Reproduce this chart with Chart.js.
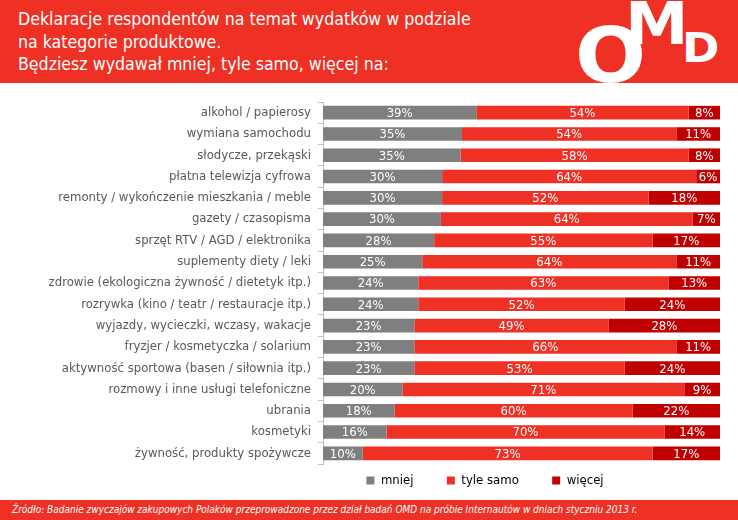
<!DOCTYPE html>
<html lang="pl">
<head>
<meta charset="utf-8">
<script src="https://cdn.jsdelivr.net/npm/chart.js@4.4.1/dist/chart.umd.min.js"></script>
<style>
    html, body {
        margin: 0;
        padding: 0;
        width: 738px;
        height: 520px;
        overflow: hidden;
        background: #fff;
        font-family: "DejaVu Sans Condensed", "DejaVu Sans", sans-serif;
    }
    #header {
        position: absolute;
        left: 0;
        top: 0;
        width: 738px;
        height: 83px;
        background: #ee3124;
        overflow: hidden;
    }
    #title {
        position: absolute;
        left: 18px;
        top: 8px;
        color: #fff;
        font-size: 17.6px;
        line-height: 22.5px;
        white-space: nowrap;
    }
    .logo {
        position: absolute;
        color: #fff;
        font-family: "DejaVu Sans", sans-serif;
        font-weight: bold;
        line-height: 1;
        transform-origin: left top;
    }
    #chartBox {
        position: absolute;
        left: 0;
        top: 85px;
        width: 738px;
        height: 415px;
    }
    #footer {
        position: absolute;
        left: 0;
        top: 500px;
        width: 738px;
        height: 20px;
        background: #ee3124;
        color: #fff;
        font-style: italic;
        font-size: 10px;
        line-height: 20px;
        padding-left: 12px;
        box-sizing: border-box;
        white-space: nowrap;
    }
</style>
</head>
<body>

<div id="header">
    <div id="title">
        Deklaracje respondentów na temat wydatków w podziale<br>
        na kategorie produktowe.<br>
        Będziesz wydawał mniej, tyle samo, więcej na:
    </div>
    <div class="logo" style="left:575px; top:18px; font-size:76px; transform:scaleX(1.1);">O</div>
    <div class="logo" style="left:625px; top:-5px; font-size:58px; transform:scaleX(1.1);">M</div>
    <div class="logo" style="left:682px; top:28px; font-size:41px; transform:scaleX(1.1);">D</div>
</div>

<div id="chartBox">
    <canvas id="spendChart"></canvas>
</div>

<div id="footer">Źródło: Badanie zwyczajów zakupowych Polaków przeprowadzone przez dział badań OMD na próbie Internautów w dniach styczniu 2013 r.</div>

<script>
// ==========================
// Data
// ==========================

const categories = [
    "alkohol / papierosy",
    "wymiana samochodu",
    "słodycze, przekąski",
    "płatna telewizja cyfrowa",
    "remonty / wykończenie mieszkania / meble",
    "gazety / czasopisma",
    "sprzęt RTV / AGD / elektronika",
    "suplementy diety / leki",
    "zdrowie (ekologiczna żywność / dietetyk itp.)",
    "rozrywka (kino / teatr / restauracje itp.)",
    "wyjazdy, wycieczki, wczasy, wakacje",
    "fryzjer / kosmetyczka / solarium",
    "aktywność sportowa (basen / siłownia itp.)",
    "rozmowy i inne usługi telefoniczne",
    "ubrania",
    "kosmetyki",
    "żywność, produkty spożywcze"
];

const mniej    = [39, 35, 35, 30, 30, 30, 28, 25, 24, 24, 23, 23, 23, 20, 18, 16, 10];
const tyleSamo = [54, 54, 58, 64, 52, 64, 55, 64, 63, 52, 49, 66, 53, 71, 60, 70, 73];
const wiecej   = [8, 11, 8, 6, 18, 7, 17, 11, 13, 24, 28, 11, 24, 9, 22, 14, 17];

const seriesNames = ["mniej", "tyle samo", "więcej"];

// bars are 100% stacked, so each row is scaled to its own total
const rowTotals = categories.map((c, i) => mniej[i] + tyleSamo[i] + wiecej[i]);
const toShare = arr => arr.map((v, i) => v / rowTotals[i] * 100);

const labelFont = '"DejaVu Sans Condensed", "DejaVu Sans", sans-serif';

// ==========================
// Value labels inside bars
// ==========================

const barLabels = {
    id: "barLabels",
    afterDatasetsDraw(chart) {
        const ctx = chart.ctx;
        ctx.save();
        ctx.font = "13px " + labelFont;
        ctx.fillStyle = "#ffffff";
        ctx.textAlign = "center";
        ctx.textBaseline = "middle";
        chart.data.datasets.forEach((ds, d) => {
            chart.getDatasetMeta(d).data.forEach((bar, i) => {
                ctx.fillText(ds.rawValues[i] + "%", (bar.x + bar.base) / 2, bar.y + 1);
            });
        });
        ctx.restore();
    }
};

// legend sits centred under the bars, not under the whole canvas
const legendUnderBars = {
    id: "legendUnderBars",
    afterLayout(chart) {
        chart.legend.left = 250;
    }
};

// ==========================
// Chart
// ==========================

new Chart(document.getElementById("spendChart"), {
    type: "bar",
    data: {
        labels: categories,
        datasets: [
            {
                label: seriesNames[0],
                data: toShare(mniej),
                rawValues: mniej,
                backgroundColor: "#7f7f7f"
            },
            {
                label: seriesNames[1],
                data: toShare(tyleSamo),
                rawValues: tyleSamo,
                backgroundColor: "#ee3124"
            },
            {
                label: seriesNames[2],
                data: toShare(wiecej),
                rawValues: wiecej,
                backgroundColor: "#c00000"
            }
        ]
    },
    options: {
        indexAxis: "y",
        responsive: true,
        maintainAspectRatio: false,
        animation: false,
        layout: {
            padding: { left: 0, right: 18, top: 17, bottom: 3 }
        },
        datasets: {
            bar: {
                barPercentage: 0.64,
                categoryPercentage: 1,
                borderWidth: 0
            }
        },
        scales: {
            x: {
                display: false,
                stacked: true,
                min: 0,
                max: 100
            },
            y: {
                stacked: true,
                afterFit(scale) {
                    scale.width = 323;
                },
                grid: {
                    drawOnChartArea: false,
                    tickLength: 5,
                    color: "#bfbfbf"
                },
                border: {
                    color: "#bfbfbf"
                },
                ticks: {
                    autoSkip: false,
                    padding: 7,
                    color: "#595959",
                    font: { family: labelFont, size: 13 }
                }
            }
        },
        plugins: {
            tooltip: { enabled: false },
            legend: {
                position: "bottom",
                labels: {
                    boxWidth: 8,
                    boxHeight: 8,
                    padding: 10,
                    color: "#595959",
                    font: { family: labelFont, size: 13 },
                    generateLabels(chart) {
                        return chart.data.datasets.map((ds, i) => ({
                            text: i < 2 ? ds.label + "\u2003\u2003" : ds.label,
                            fillStyle: ds.backgroundColor,
                            strokeStyle: ds.backgroundColor,
                            lineWidth: 0,
                            datasetIndex: i
                        }));
                    }
                }
            }
        }
    },
    plugins: [barLabels, legendUnderBars]
});
</script>
</body>
</html>
